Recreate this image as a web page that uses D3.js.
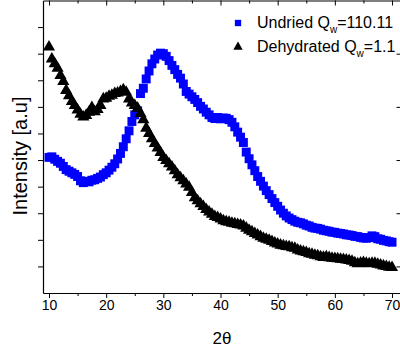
<!DOCTYPE html>
<html>
<head>
<meta charset="utf-8">
<script src="https://cdn.jsdelivr.net/npm/d3@7"></script>
<style>
  body { margin: 0; background: #fff; }
  svg { display: block; }
</style>
</head>
<body>
<div id="chart"></div>
<script>
// 2theta grid, 10..70 every 0.5 degree
const twoTheta = d3.range(0, 121).map(i => 10 + i * 0.5)

// Undried Qw=110.11 (blue squares)
const undried = [
  5.10, 5.12, 5.03, 4.95, 4.88, 4.76, 4.64, 4.58, 4.52, 4.46,
  4.38, 4.22, 4.15, 4.20, 4.18, 4.24, 4.26, 4.31, 4.36, 4.45,
  4.52, 4.62, 4.73, 4.86, 5.04, 5.25, 5.50, 5.80, 6.10, 6.45,
  6.70, 6.85, 7.50, 7.70, 8.05, 8.35, 8.62, 8.80, 8.95, 9.02,
  9.00, 8.90, 8.74, 8.56, 8.40, 8.22, 8.08, 7.86, 7.58, 7.48,
  7.38, 7.28, 7.16, 7.02, 6.92, 6.80, 6.70, 6.60, 6.56, 6.60,
  6.55, 6.58, 6.57, 6.52, 6.42, 6.25, 6.05, 5.86, 5.66, 5.30,
  5.05, 4.82, 4.60, 4.38, 4.20, 4.02, 3.85, 3.70, 3.55, 3.40,
  3.26, 3.12, 3.00, 2.90, 2.82, 2.76, 2.70, 2.66, 2.64, 2.60,
  2.55, 2.52, 2.47, 2.44, 2.43, 2.40, 2.36, 2.34, 2.32, 2.29,
  2.28, 2.25, 2.24, 2.22, 2.19, 2.18, 2.16, 2.13, 2.12, 2.09,
  2.07, 2.06, 2.08, 2.15, 2.12, 2.04, 2.02, 1.98, 1.96, 1.93,
  1.91
]

// Dehydrated Qw=1.1 (black triangles)
const dehydrated = [
  9.25, 8.80, 8.62, 8.45, 8.18, 7.95, 7.62, 7.42, 7.20, 7.05,
  6.88, 6.72, 6.62, 6.68, 6.80, 6.98, 6.82, 6.90, 7.05, 7.30,
  7.32, 7.40, 7.44, 7.50, 7.52, 7.58, 7.64, 7.55, 7.30, 7.15,
  7.05, 6.95, 6.75, 6.52, 6.20, 6.00, 5.80, 5.62, 5.45, 5.28,
  5.10, 4.98, 4.86, 4.74, 4.60, 4.45, 4.33, 4.22, 4.10, 3.98,
  3.78, 3.58, 3.47, 3.36, 3.25, 3.14, 3.05, 2.96, 2.88, 2.84,
  2.78, 2.72, 2.68, 2.66, 2.62, 2.60, 2.58, 2.56, 2.52, 2.44,
  2.36, 2.30, 2.24, 2.18, 2.12, 2.06, 2.02, 1.98, 1.94, 1.88,
  1.84, 1.80, 1.78, 1.75, 1.74, 1.70, 1.68, 1.62, 1.58, 1.55,
  1.52, 1.48, 1.46, 1.42, 1.40, 1.36, 1.34, 1.36, 1.33, 1.31,
  1.30, 1.29, 1.27, 1.26, 1.24, 1.22, 1.19, 1.14, 1.10, 1.13,
  1.15, 1.12, 1.10, 1.12, 1.12, 1.08, 1.05, 1.02, 1.00, 0.97,
  0.96
]

const xTicks = [10, 15, 20, 25, 30, 35, 40, 45, 50, 55, 60, 65, 70]
const xLabels = [10, 20, 30, 40, 50, 60, 70]
const yTicksLeft = [1, 2, 3, 4, 5, 6, 7, 8, 9, 10]
const yTicksRight = [1, 3, 5, 7, 9]

const width = 400, height = 353
const font = "Arial, 'Liberation Sans', sans-serif"

const svg = d3.select('#chart').append('svg')
    .attr('width', width)
    .attr('height', height)

const x = d3.scaleLinear()
    .domain([8.95, 71.57])
    .range([43, 401])

const y = d3.scaleLinear()
    .domain([0, 11])
    .range([293, 0.5])

// series
const squares = twoTheta.map((t, i) => ({ t: t, v: undried[i] }))
const triangles = twoTheta.map((t, i) => ({ t: t, v: dehydrated[i] }))

svg.append('g')
    .attr('class', 'undried')
  .selectAll('path')
  .data(squares)
  .join('path')
    .attr('transform', d => `translate(${x(d.t)},${y(d.v)})`)
    .attr('d', d3.symbol(d3.symbolSquare, 80))
    .attr('fill', '#0000ff')

svg.append('g')
    .attr('class', 'dehydrated')
  .selectAll('path')
  .data(triangles)
  .join('path')
    .attr('transform', d => `translate(${x(d.t)},${y(d.v)})`)
    .attr('d', d3.symbol(d3.symbolTriangle, 64))
    .attr('fill', '#000')

// axes - bottom, labels only every 10
svg.append('g')
    .attr('transform', 'translate(0,293)')
    .call(d3.axisBottom(x).tickValues(xTicks).tickSizeOuter(0)
        .tickFormat(d => xLabels.includes(d) ? d : ''))
    .call(g => g.selectAll('.tick line').attr('y2', d => xLabels.includes(d) ? 5 : 3))
    .call(g => g.selectAll('text').attr('font-size', 14).attr('font-family', font).attr('dy', '0.55em').attr('fill', '#000'))

// top
svg.append('g')
    .attr('transform', 'translate(0,0.5)')
    .call(d3.axisTop(x).tickValues(xTicks).tickSizeOuter(0).tickFormat(''))
    .call(g => g.selectAll('.tick line').attr('y2', d => xLabels.includes(d) ? 5 : 3))

// left
svg.append('g')
    .attr('transform', 'translate(43,0)')
    .call(d3.axisLeft(y).tickValues(yTicksLeft).tickSize(5).tickSizeOuter(0).tickFormat(''))

// right, just off the edge of the image
svg.append('g')
    .attr('transform', 'translate(400.5,0)')
    .call(d3.axisRight(y).tickValues(yTicksRight).tickSize(-4).tickSizeOuter(0).tickFormat(''))

svg.selectAll('.domain').attr('stroke', '#000').attr('stroke-width', 1.2)
svg.selectAll('.tick line').attr('stroke', '#000')

// axis titles
svg.append('text')
    .attr('x', 222)
    .attr('y', 344)
    .attr('text-anchor', 'middle')
    .attr('font-family', font)
    .attr('font-size', 17)
    .text('2θ')

svg.append('text')
    .attr('transform', 'translate(27,156) rotate(-90)')
    .attr('text-anchor', 'middle')
    .attr('font-family', font)
    .attr('font-size', 20)
    .text('Intensity [a.u]')

// legend
const legend = svg.append('g')
    .attr('font-family', font)
    .attr('font-size', 16)
    .attr('fill', '#000')

const legendRows = [
    { symbol: d3.symbolSquare, size: 40, color: '#0000ff', label: 'Undried Q', sub: 'w', rest: '=110.11', y: 28 },
    { symbol: d3.symbolTriangle, size: 38, color: '#000', label: 'Dehydrated Q', sub: 'w', rest: '=1.1', y: 52 }
]

legendRows.forEach(r => {
    legend.append('path')
        .attr('transform', `translate(238,${r.y - 5})`)
        .attr('d', d3.symbol(r.symbol, r.size))
        .attr('fill', r.color)

    const t = legend.append('text')
        .attr('x', 257)
        .attr('y', r.y)
    t.append('tspan').text(r.label)
    t.append('tspan').attr('font-size', 10).attr('dy', 5).text(r.sub)
    t.append('tspan').attr('dy', -5).text(r.rest)
})
</script>
</body>
</html>
